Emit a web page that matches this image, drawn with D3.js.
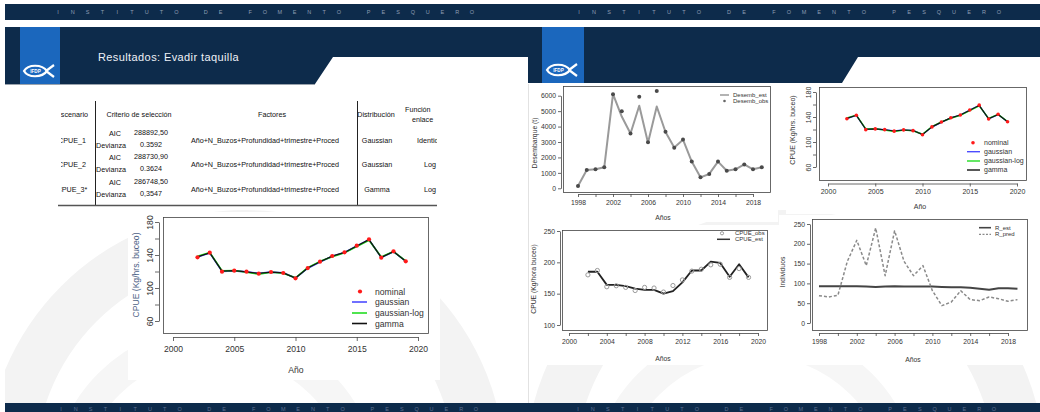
<!DOCTYPE html>
<html><head><meta charset="utf-8">
<script src="https://cdn.jsdelivr.net/npm/d3@7"></script>
<style>
body{margin:0;background:#fff;}
svg{display:block;}
text{font-family:"Liberation Sans",Arial,sans-serif;}
</style>
</head><body>
<svg id="c" width="1040" height="412"></svg>
<script>
// ---------------- DATA ----------------
const bandText = "INSTITUTO DE FOMENTO PESQUERO";
const slideTitle = "Resultados: Evadir taquilla";

const tableHeaders = ["Escenario","Criterio de selección","Factores","Distribución","Función","enlace"];
const scenarios = ["CPUE_1","CPUE_2","CPUE_3*"];
const criteriaNames = ["AIC","Devianza"];
const aicValues = ["288892,50","288730,90","286748,50"];
const devianceValues = ["0.3592","0.3624","0,3547"];
const factorTerms = ["Año+N_Buzos+Profundidad+trimestre+Proced","Año+N_Buzos+Profundidad+trimestre+Proced","Año+N_Buzos+Profundidad+trimestre+Proced"];
const distributions = ["Gaussian","Gaussian","Gamma"];
const linkFunctions = ["Identidad","Log","Log"];

const cpueYears = [2002,2003,2004,2005,2006,2007,2008,2009,2010,2011,2012,2013,2014,2015,2016,2017,2018,2019];
const cpueNominal  = [137.2,142.8,119.8,121.0,119.8,117.4,119.4,118.2,111.7,124.2,131.9,138.8,143.2,151.3,159.0,136.8,144.4,132.3];
const cpueGaussian = [137.5,142.5,120.2,120.8,119.5,117.8,119.2,118.5,112.0,124.0,131.5,138.5,143.0,151.0,158.6,137.0,144.0,132.5];
const cpueGaussLog = [138.6,143.1,121.0,121.3,119.0,116.8,119.0,118.0,112.4,124.7,132.3,138.0,142.6,150.2,157.8,137.7,144.2,132.8];
const cpueGamma    = [137.8,142.7,120.4,121.0,119.6,117.6,119.3,118.4,112.0,124.2,131.8,138.6,143.1,150.9,158.6,137.1,144.1,132.5];
const cpueLegend = ["nominal","gaussian","gaussian-log","gamma"];
const cpueTicksX = [2000,2005,2010,2015,2020];
const cpueTicksY = [60,80,100,120,140,160,180];
const cpueLabelsY = [60,100,140,180];

const desembYears = [1998,1999,2000,2001,2002,2003,2004,2005,2006,2007,2008,2009,2010,2011,2012,2013,2014,2015,2016,2017,2018,2019];
const desembEst = [150,1190,1230,1360,6100,4650,3550,5350,2950,5300,3650,2650,3150,1730,710,930,1730,1140,1230,1550,1230,1360];
const desembObs = [150,1190,1230,1360,6090,5000,3550,5940,2980,6300,3670,2630,3170,1730,710,930,1730,1140,1230,1550,1230,1360];
const desembLegend = ["Desemb_est","Desemb_obs"];
const desembTicksX = [1998,2000,2002,2004,2006,2008,2010,2012,2014,2016,2018];
const desembLabelsX = [1998,2002,2006,2010,2014,2018];
const desembTicksY = [0,1000,2000,3000,4000,5000,6000];

const fitYears = [2002,2003,2004,2005,2006,2007,2008,2009,2010,2011,2012,2013,2014,2015,2016,2017,2018,2019];
const cpueObs = [180,187,161,162.6,160,155,160,159,152.6,163,172,186,189,196,197,176,190,176];
const cpueEst = [185,185,164,164,162,158,156,156,150,154,168,187,187,201,199,177,197,176];
const fitLegend = ["CPUE_obs","CPUE_est"];
const fitTicksX = [2000,2002,2004,2006,2008,2010,2012,2014,2016,2018,2020];
const fitLabelsX = [2000,2004,2008,2012,2016,2020];
const fitTicksY = [100,150,200,250];

const recYears = [1998,1999,2000,2001,2002,2003,2004,2005,2006,2007,2008,2009,2010,2011,2012,2013,2014,2015,2016,2017,2018,2019];
const rEst  = [92.6,92.6,92.6,92.6,92.6,92,91,92,93,92,92,92,92,91,90,90,89,86.7,84,87.5,88,86.7];
const rPred = [69,65.7,70,155.7,208.8,144.8,240,119.5,233,155.7,119.5,144.8,81.6,43.8,53,81.6,59,56.4,65.7,61.4,54.7,59];
const recLegend = ["R_est","R_pred"];
const recTicksX = [1998,2000,2002,2004,2006,2008,2010,2012,2014,2016,2018];
const recLabelsX = [1998,2002,2006,2010,2014,2018];
const recTicksY = [0,50,100,150,200,250];

// ---------------- DRAW ----------------
const svg = d3.select("#c");
const navy = "#0d2b4b", blue = "#1b67bd", axisCol = "#444", txtCol = "#333";

// watermark
const defs = svg.append("defs");
defs.append("clipPath").attr("id","clipL").append("rect").attr("x",5).attr("y",85).attr("width",522).attr("height",318);
defs.append("clipPath").attr("id","clipR").append("rect").attr("x",530).attr("y",85).attr("width",510).attr("height",318);
defs.append("clipPath").attr("id","clipT").append("rect").attr("x",61).attr("y",95).attr("width",376).attr("height",115);
[["clipL",245,470],["clipR",785,470]].forEach(([c,cx,cy])=>{
  const g = svg.append("g").attr("clip-path",`url(#${c})`);
  g.append("circle").attr("cx",cx).attr("cy",cy).attr("r",235).attr("fill","none").attr("stroke","#f3f3f3").attr("stroke-width",50);
  g.append("circle").attr("cx",cx-30).attr("cy",cy+20).attr("r",150).attr("fill","none").attr("stroke","#f6f6f6").attr("stroke-width",30);
});
svg.append("line").attr("x1",528.5).attr("x2",528.5).attr("y1",84).attr("y2",403).attr("stroke","#e2e2e2");

// bands
svg.append("rect").attr("x",5).attr("y",4).attr("width",1035).attr("height",16).attr("fill",navy);
svg.append("rect").attr("x",5).attr("y",403).attr("width",1035).attr("height",9).attr("fill",navy);
svg.append("path").attr("d","M5,27 H528 V57 H333 L315,84 H5 Z").attr("fill",navy);
svg.append("path").attr("d","M528,27 H1040 V57 H858 L842,83 H528 Z").attr("fill",navy);
svg.append("line").attr("x1",5).attr("x2",315).attr("y1",84.5).attr("y2",84.5).attr("stroke","#9aa3ad");
svg.append("rect").attr("x",20).attr("y",27).attr("width",40).attr("height",57).attr("fill",blue);
svg.append("rect").attr("x",542).attr("y",27).attr("width",42).attr("height",56).attr("fill",blue);

function bandLetters(x0,x1,y,col){
  const chars = bandText.split("");
  const step = (x1-x0)/(chars.length-1);
  svg.append("g").selectAll("text").data(chars).join("text")
    .attr("x",(d,i)=>x0+i*step).attr("y",y).attr("text-anchor","middle")
    .attr("font-size",5.5).attr("fill",col).text(d=>d);
}
bandLetters(58,472,14,"#8d9db3");
bandLetters(579,999,14,"#8d9db3");
bandLetters(61,476,410.5,"#5d7090");
bandLetters(578,994,410.5,"#5d7090");

function logo(cx,cy){
  const g = svg.append("g").attr("transform",`translate(${cx},${cy})`);
  g.append("path").attr("d","M-12,0 C-8,-7 6,-7 11,0 C6,7 -8,7 -12,0 Z").attr("fill","none").attr("stroke","#fff").attr("stroke-width",2.2);
  g.append("path").attr("d","M10,0 L18,-6 M10,0 L18,6").attr("stroke","#fff").attr("stroke-width",2.2).attr("fill","none");
  g.append("text").attr("x",-0.5).attr("y",1.7).attr("text-anchor","middle").attr("font-size",4.6).attr("font-weight","bold").attr("fill","#fff").text("IFDP");
}
logo(36,71);
logo(559,70);

svg.append("text").attr("x",98).attr("y",61).attr("font-size",11).attr("letter-spacing",0.4).attr("fill","#eef2f7").text(slideTitle);

// table
const tg = svg.append("g").attr("clip-path","url(#clipT)").attr("fill","#111")
  .style("font-family","'Liberation Sans Narrow','Liberation Sans',sans-serif").attr("font-size",7.2);
svg.append("line").attr("x1",95.5).attr("x2",95.5).attr("y1",101).attr("y2",205).attr("stroke","#222");
svg.append("line").attr("x1",357.5).attr("x2",357.5).attr("y1",101).attr("y2",205).attr("stroke","#222");
svg.append("line").attr("x1",58).attr("x2",437).attr("y1",205.5).attr("y2",205.5).attr("stroke","#555").attr("stroke-width",1.3);
tg.append("text").attr("x",88).attr("y",117).attr("text-anchor","end").text(tableHeaders[0]);
tg.append("text").attr("x",139).attr("y",117).attr("text-anchor","middle").text(tableHeaders[1]);
tg.append("text").attr("x",272).attr("y",117).attr("text-anchor","middle").text(tableHeaders[2]);
tg.append("text").attr("x",376).attr("y",117).attr("text-anchor","middle").text(tableHeaders[3]);
tg.append("text").attr("x",405).attr("y",112).text(tableHeaders[4]);
tg.append("text").attr("x",412).attr("y",122).text(tableHeaders[5]);
const rowY = [140,164,189];
scenarios.forEach((s,i)=>{
  const y = rowY[i];
  tg.append("text").attr("x",72).attr("y",y+2.5).attr("text-anchor","middle").text(s);
  tg.append("text").attr("x",115).attr("y",y-4).attr("text-anchor","middle").text(criteriaNames[0]);
  tg.append("text").attr("x",111).attr("y",y+8).attr("text-anchor","middle").text(criteriaNames[1]);
  tg.append("text").attr("x",151).attr("y",y-5).attr("text-anchor","middle").text(aicValues[i]);
  tg.append("text").attr("x",151).attr("y",y+7).attr("text-anchor","middle").text(devianceValues[i]);
  tg.append("text").attr("x",265).attr("y",y+2.5).attr("text-anchor","middle").text(factorTerms[i]);
  tg.append("text").attr("x",377).attr("y",y+2.5).attr("text-anchor","middle").text(distributions[i]);
  tg.append("text").attr("x",i===0?417:430).attr("y",y+2.5).attr("text-anchor",i===0?"start":"middle").text(linkFunctions[i]);
});

// generic R-like plot
function rplot(o){
  const g = svg.append("g");
  g.append("rect").attr("x",o.bg[0]).attr("y",o.bg[1]).attr("width",o.bg[2]).attr("height",o.bg[3]).attr("fill","#fff");
  const x = d3.scaleLinear().domain(o.xd).range(o.xr);
  const y = d3.scaleLinear().domain(o.yd).range(o.yr);
  g.append("rect").attr("x",o.box[0]+0.5).attr("y",o.box[1]+0.5).attr("width",o.box[2]-o.box[0]).attr("height",o.box[3]-o.box[1])
    .attr("fill","none").attr("stroke",axisCol).attr("stroke-width",0.8);
  const xa = g.append("g").attr("transform",`translate(0,${o.xAxisY})`)
    .call(d3.axisBottom(x).tickValues(o.xt).tickSize(o.tl).tickSizeOuter(0).tickPadding(o.xpad)
      .tickFormat(d=>o.xl.includes(d)?String(d):""));
  const ya = g.append("g").attr("transform",`translate(${o.yAxisX},0)`)
    .call(d3.axisLeft(y).tickValues(o.yt).tickSize(o.tl).tickSizeOuter(0).tickPadding(o.ypad)
      .tickFormat(d=>o.yl.includes(d)?String(d):""));
  [xa,ya].forEach(a=>{
    a.attr("font-family",null).attr("font-size",null);
    a.selectAll("path,line").attr("stroke",axisCol).attr("stroke-width",0.8);
    a.selectAll("text").attr("fill",txtCol).attr("font-size",o.fs);
  });
  if(o.rotY){
    ya.selectAll("text").attr("transform","rotate(-90)").attr("x",0).attr("y",-(o.tl+o.ypad)).attr("dy",0).attr("text-anchor","middle");
  }
  g.append("text").attr("x",o.xTitle[0]).attr("y",o.xTitle[1]).attr("text-anchor","middle").attr("font-size",o.fs).attr("fill",txtCol).text(o.xTitle[2]);
  g.append("text").attr("transform",`translate(${o.yTitle[0]},${o.yTitle[1]}) rotate(-90)`).attr("text-anchor","middle")
    .attr("font-size",o.fs).attr("fill",o.yTitle[3]||txtCol).text(o.yTitle[2]);
  return {g,x,y};
}
function addLine(p,xs,vs,col,w,dash){
  p.g.append("path").datum(xs.map((d,i)=>[d,vs[i]]))
    .attr("d",d3.line().x(d=>p.x(d[0])).y(d=>p.y(d[1])))
    .attr("fill","none").attr("stroke",col).attr("stroke-width",w).attr("stroke-dasharray",dash||null).attr("stroke-linejoin","round");
}
function addLegendLine(p,x0,x1,y,col,w,dash){
  p.g.append("line").attr("x1",x0).attr("x2",x1).attr("y1",y).attr("y2",y).attr("stroke",col).attr("stroke-width",w).attr("stroke-dasharray",dash||null);
}
function addLegendText(p,x,y,t,fs){
  p.g.append("text").attr("x",x).attr("y",y).attr("dy","0.35em").attr("font-size",fs).attr("fill",txtCol).text(t);
}

// CPUE model comparison (drawn twice: left slide and right slide)
function cpuePlot(o,r,lg){
  const p = rplot(o);
  addLine(p,cpueYears,cpueGaussian,"#4c4cff",o.lw);
  addLine(p,cpueYears,cpueGaussLog,"#22dd22",o.lw);
  addLine(p,cpueYears,cpueGamma,"#111",o.lw*0.8);
  p.g.selectAll("circle.nom").data(cpueYears).join("circle").attr("cx",d=>p.x(d)).attr("cy",(d,i)=>p.y(cpueNominal[i])).attr("r",r).attr("fill","#ff1a1a");
  p.g.append("circle").attr("cx",lg.px).attr("cy",lg.ys[0]).attr("r",r).attr("fill","#ff1a1a");
  addLegendLine(p,lg.x0,lg.x1,lg.ys[1],"#4c4cff",o.lw);
  addLegendLine(p,lg.x0,lg.x1,lg.ys[2],"#22dd22",o.lw);
  addLegendLine(p,lg.x0,lg.x1,lg.ys[3],"#111",o.lw);
  cpueLegend.forEach((t,i)=>addLegendText(p,lg.tx,lg.ys[i],t,o.fs));
}
cpuePlot({bg:[128,212,312,168],box:[163,217,428,333],xd:[2000,2020],xr:[173,418],yd:[60,180],yr:[321,222],
  xAxisY:337,yAxisX:159,tl:4,xpad:5,ypad:2,fs:8.6,xt:cpueTicksX,xl:cpueTicksX,yt:cpueTicksY,yl:cpueLabelsY,rotY:true,lw:1.6,
  xTitle:[296,373,"Año"],yTitle:[139,275,"CPUE (Kg/hrs. buceo)","#4d6285"]},2.1,
  {px:360,x0:352,x1:367,tx:375,ys:[291.5,302,313,323.5]});

cpuePlot({bg:[786,84,254,130],box:[819,87,1026,180],xd:[2000,2020],xr:[828,1017],yd:[60,180],yr:[167,92],
  xAxisY:183.5,yAxisX:816,tl:3,xpad:3,ypad:2,fs:7,xt:cpueTicksX,xl:cpueTicksX,yt:cpueTicksY,yl:cpueLabelsY,rotY:true,lw:1.4,
  xTitle:[920,208.5,"Año"],yTitle:[795,130,"CPUE (Kg/hrs. buceo)"]},1.8,
  {px:973,x0:967,x1:980,tx:984,ys:[142.7,151.7,161,170]});

// Desembarque
{
  const p = rplot({bg:[531,85,247,137],box:[563,86,770,192],xd:[1998,2018],xr:[578,753],yd:[0,6000],yr:[188.3,95.7],
    xAxisY:194,yAxisX:561,tl:3,xpad:3,ypad:2,fs:6.8,xt:desembTicksX,xl:desembLabelsX,yt:desembTicksY,yl:desembTicksY,rotY:false,
    xTitle:[663,220,"Años"],yTitle:[537,143,"Desembarque (t)"]});
  addLine(p,desembYears,desembEst,"#9a9a9a",2);
  p.g.selectAll("circle.o").data(desembYears).join("circle").attr("cx",d=>p.x(d)).attr("cy",(d,i)=>p.y(desembObs[i])).attr("r",2).attr("fill","#4a4a4a");
  addLegendLine(p,720,729,95,"#9a9a9a",1.5);
  p.g.append("circle").attr("cx",724.5).attr("cy",101).attr("r",1.3).attr("fill","#666");
  desembLegend.forEach((t,i)=>addLegendText(p,733,95+6*i,t,6));
}

// CPUE obs vs est
{
  const p = rplot({bg:[531,225,249,140],box:[562,230,767,330],xd:[2000,2020],xr:[569,758],yd:[100,250],yr:[325,231],
    xAxisY:333,yAxisX:560,tl:3,xpad:3,ypad:2,fs:6.8,xt:fitTicksX,xl:fitLabelsX,yt:fitTicksY,yl:fitTicksY,rotY:false,
    xTitle:[663,360.5,"Años"],yTitle:[536,279,"CPUE (Kg/hora buceo)"]});
  addLine(p,fitYears,cpueEst,"#222",1.8);
  p.g.selectAll("circle.o").data(fitYears).join("circle").attr("cx",d=>p.x(d)).attr("cy",(d,i)=>p.y(cpueObs[i])).attr("r",2.1)
    .attr("fill","none").attr("stroke","#9a9a9a").attr("stroke-width",1);
  p.g.append("circle").attr("cx",722).attr("cy",233.3).attr("r",1.6).attr("fill","none").attr("stroke","#9a9a9a");
  addLegendLine(p,717,730,239.3,"#333",1.5);
  fitLegend.forEach((t,i)=>addLegendText(p,735,233.3+6*i,t,6));
}

// Reclutamiento
{
  const p = rplot({bg:[779,215,260,150],box:[812,219,1027,330],xd:[1998,2018],xr:[819,1008],yd:[0,250],yr:[323,224],
    xAxisY:333,yAxisX:810,tl:3,xpad:3,ypad:2,fs:6.8,xt:recTicksX,xl:recLabelsX,yt:recTicksY,yl:recTicksY,rotY:false,
    xTitle:[913,362,"Años"],yTitle:[785,272,"Individuos"]});
  addLine(p,recYears,rEst,"#444",2);
  addLine(p,recYears,rPred,"#8a8a8a",1.5,"3,2");
  addLegendLine(p,979,991,227.7,"#444",1.6);
  addLegendLine(p,979,991,234.3,"#8a8a8a",1.2,"2,1.5");
  recLegend.forEach((t,i)=>addLegendText(p,995,227.7+6.6*i,t,6));
}
</script>
</body></html>
